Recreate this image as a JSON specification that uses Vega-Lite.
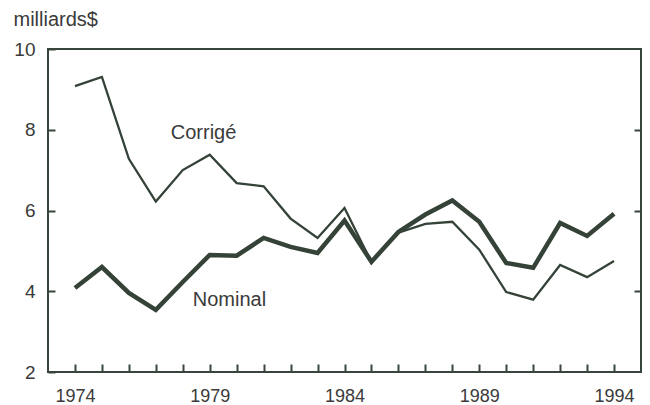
{
  "$schema": "https://vega.github.io/schema/vega-lite/v6.json",
  "width": 593,
  "height": 323,
  "autosize": {"type": "none"},
  "padding": {"left": 48, "top": 49, "right": 9, "bottom": 33},
  "background": "white",
  "config": {
    "view": {"stroke": "#38453c", "strokeWidth": 2},
    "font": "Liberation Sans",
    "axis": {"grid": false, "domain": false, "tickWidth": 2, "tickColor": "#38453c", "labelColor": "#3a3a3a", "labelFontSize": 19, "labelFlush": false, "labelOverlap": false, "labelBound": false}
  },
  "datasets": {
    "series": [
      {"year": 1974, "series": "Corrigé", "value": 9.08},
      {"year": 1975, "series": "Corrigé", "value": 9.31},
      {"year": 1976, "series": "Corrigé", "value": 7.28},
      {"year": 1977, "series": "Corrigé", "value": 6.22},
      {"year": 1978, "series": "Corrigé", "value": 7.0},
      {"year": 1979, "series": "Corrigé", "value": 7.38},
      {"year": 1980, "series": "Corrigé", "value": 6.68},
      {"year": 1981, "series": "Corrigé", "value": 6.6},
      {"year": 1982, "series": "Corrigé", "value": 5.8},
      {"year": 1983, "series": "Corrigé", "value": 5.32},
      {"year": 1984, "series": "Corrigé", "value": 6.06},
      {"year": 1985, "series": "Corrigé", "value": 4.72},
      {"year": 1986, "series": "Corrigé", "value": 5.45},
      {"year": 1987, "series": "Corrigé", "value": 5.67},
      {"year": 1988, "series": "Corrigé", "value": 5.72},
      {"year": 1989, "series": "Corrigé", "value": 5.03},
      {"year": 1990, "series": "Corrigé", "value": 3.98},
      {"year": 1991, "series": "Corrigé", "value": 3.79},
      {"year": 1992, "series": "Corrigé", "value": 4.65},
      {"year": 1993, "series": "Corrigé", "value": 4.35},
      {"year": 1994, "series": "Corrigé", "value": 4.75},
      {"year": 1974, "series": "Nominal", "value": 4.08},
      {"year": 1975, "series": "Nominal", "value": 4.6},
      {"year": 1976, "series": "Nominal", "value": 3.96},
      {"year": 1977, "series": "Nominal", "value": 3.54},
      {"year": 1978, "series": "Nominal", "value": 4.23},
      {"year": 1979, "series": "Nominal", "value": 4.9},
      {"year": 1980, "series": "Nominal", "value": 4.88},
      {"year": 1981, "series": "Nominal", "value": 5.32},
      {"year": 1982, "series": "Nominal", "value": 5.1},
      {"year": 1983, "series": "Nominal", "value": 4.95},
      {"year": 1984, "series": "Nominal", "value": 5.75},
      {"year": 1985, "series": "Nominal", "value": 4.73},
      {"year": 1986, "series": "Nominal", "value": 5.47},
      {"year": 1987, "series": "Nominal", "value": 5.9},
      {"year": 1988, "series": "Nominal", "value": 6.25},
      {"year": 1989, "series": "Nominal", "value": 5.72},
      {"year": 1990, "series": "Nominal", "value": 4.7},
      {"year": 1991, "series": "Nominal", "value": 4.58},
      {"year": 1992, "series": "Nominal", "value": 5.69},
      {"year": 1993, "series": "Nominal", "value": 5.37},
      {"year": 1994, "series": "Nominal", "value": 5.92}
    ],
    "labels": [
      {"year": 1978.77, "value": 7.92, "text": "Corrigé"},
      {"year": 1979.73, "value": 3.79, "text": "Nominal"}
    ]
  },
  "resolve": {"axis": {"x": "independent", "y": "independent"}},
  "layer": [
    {
      "data": {"name": "series"},
      "mark": {"type": "line", "color": "#354238"},
      "encoding": {
        "x": {
          "field": "year",
          "type": "quantitative",
          "scale": {"domain": [1973, 1995], "nice": false, "zero": false},
          "axis": {
            "title": null,
            "orient": "bottom",
            "values": [1974,1975,1976,1977,1978,1979,1980,1981,1982,1983,1984,1985,1986,1987,1988,1989,1990,1991,1992,1993,1994],
            "labels": false,
            "tickSize": -8
          }
        },
        "y": {
          "field": "value",
          "type": "quantitative",
          "scale": {"domain": [2, 10], "nice": false, "zero": false},
          "axis": {
            "orient": "left",
            "values": [2, 4, 6, 8, 10],
            "tickSize": -7,
            "labelPadding": 20,
            "title": "milliards$",
            "titleAngle": 0,
            "titleAlign": "left",
            "titleBaseline": "alphabetic",
            "titleX": -35,
            "titleY": -24,
            "titleFontSize": 20,
            "titleFontWeight": "normal",
            "titleColor": "#3a3a3a"
          }
        },
        "detail": {"field": "series"},
        "strokeWidth": {
          "field": "series",
          "type": "nominal",
          "scale": {"domain": ["Corrigé", "Nominal"], "range": [2.3, 4.5]},
          "legend": null
        }
      }
    },
    {
      "data": {"name": "labels"},
      "mark": {"type": "text", "color": "#3a3a3a", "fontSize": 20, "align": "center", "baseline": "middle"},
      "encoding": {
        "x": {
          "field": "year",
          "type": "quantitative",
          "axis": {
            "title": null,
            "orient": "bottom",
            "values": [1974, 1979, 1984, 1989, 1994],
            "format": "d",
            "ticks": false,
            "labelFontSize": 18,
            "labelPadding": 15
          }
        },
        "y": {
          "field": "value",
          "type": "quantitative",
          "axis": {
            "orient": "right",
            "values": [4, 6, 8],
            "labels": false,
            "tickSize": -7,
            "title": null
          }
        },
        "text": {"field": "text"}
      }
    }
  ]
}
